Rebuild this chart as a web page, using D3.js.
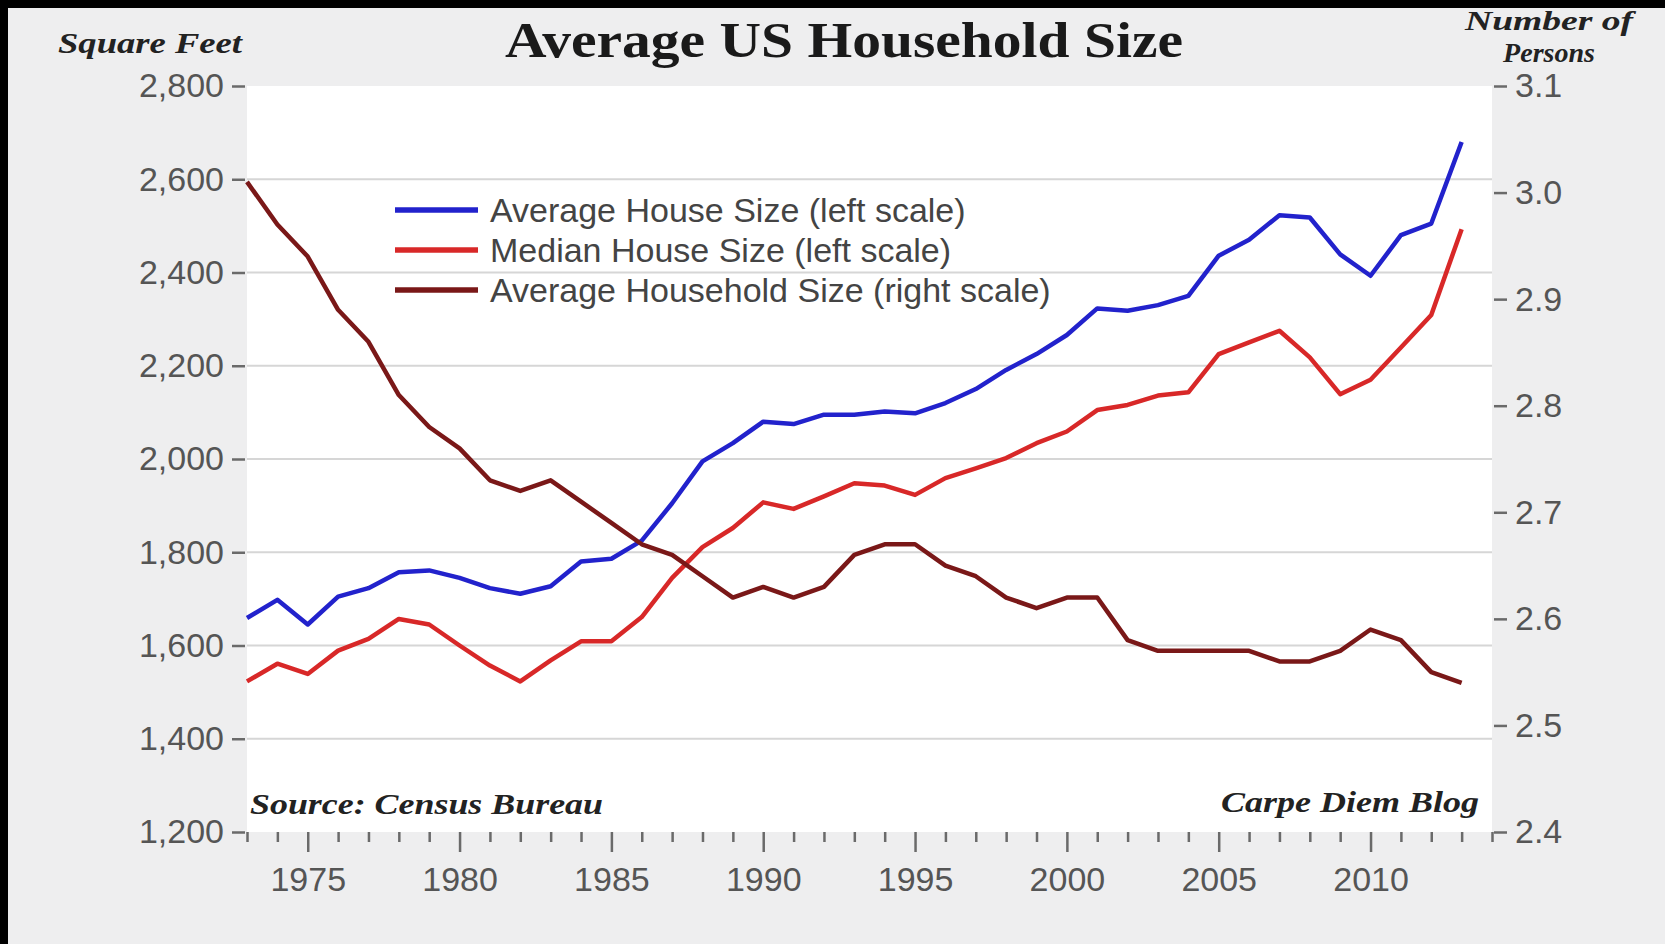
<!DOCTYPE html>
<html>
<head>
<meta charset="utf-8">
<script src="https://cdn.jsdelivr.net/npm/d3@7"></script>
<style>
  body { margin: 0; background: #000; }
  svg { display: block; }
</style>
</head>
<body>
<div id="container"></div>
<script>
// data
const years = d3.range(1973, 2014);
const avgHouse = [1659, 1698, 1645, 1705, 1723, 1757, 1761, 1745, 1723, 1711,
  1727, 1780, 1786, 1825, 1905, 1995, 2034, 2080, 2075, 2095,
  2095, 2102, 2098, 2120, 2150, 2191, 2225, 2266, 2323, 2318,
  2330, 2350, 2436, 2470, 2523, 2518, 2439, 2393, 2480, 2505, 2680];
const medianHouse = [1523, 1561, 1539, 1589, 1614, 1657, 1645, 1600, 1557, 1523,
  1568, 1609, 1609, 1661, 1745, 1811, 1852, 1907, 1893, 1920,
  1948, 1943, 1923, 1959, 1980, 2002, 2034, 2059, 2105, 2116,
  2136, 2143, 2225, 2250, 2275, 2218, 2139, 2170, 2239, 2309, 2493];
const householdSize = [3.01, 2.97, 2.94, 2.89, 2.86, 2.81, 2.78, 2.76, 2.73, 2.72,
  2.73, 2.71, 2.69, 2.67, 2.66, 2.64, 2.62, 2.63, 2.62, 2.63,
  2.66, 2.67, 2.67, 2.65, 2.64, 2.62, 2.61, 2.62, 2.62, 2.58,
  2.57, 2.57, 2.57, 2.57, 2.56, 2.56, 2.57, 2.59, 2.58, 2.55, 2.54];
const leftTicks = [1200, 1400, 1600, 1800, 2000, 2200, 2400, 2600, 2800];
const rightTicks = [2.4, 2.5, 2.6, 2.7, 2.8, 2.9, 3.0, 3.1];
const yearLabels = [1975, 1980, 1985, 1990, 1995, 2000, 2005, 2010];
const seriesNames = ["Average House Size (left scale)", "Median House Size (left scale)", "Average Household Size (right scale)"];
const seriesColors = ["#2222cc", "#d82828", "#7a1818"];

const width = 1665, height = 944;
const plot = { left: 247, right: 1492, top: 86, bottom: 832 };

const svg = d3.select("#container").append("svg")
  .attr("width", width)
  .attr("height", height);

// background + black border strips
svg.append("rect").attr("width", width).attr("height", height).attr("fill", "#eeeeef");
svg.append("rect").attr("width", width).attr("height", 8).attr("fill", "#000");
svg.append("rect").attr("width", 8).attr("height", height).attr("fill", "#000");

// scales
const x = d3.scaleLinear().domain([1973, 2014]).range([plot.left, plot.right]);
const yLeft = d3.scaleLinear().domain([1200, 2800]).range([plot.bottom, plot.top]);
const yRight = d3.scaleLinear().domain([2.4, 3.1]).range([plot.bottom, plot.top]);

// plot area
svg.append("rect")
  .attr("x", plot.left).attr("y", plot.top)
  .attr("width", plot.right - plot.left).attr("height", plot.bottom - plot.top)
  .attr("fill", "#fff");

// gridlines
svg.selectAll("line.grid")
  .data(leftTicks.filter(d => d > 1200 && d < 2800))
  .join("line")
  .attr("class", "grid")
  .attr("x1", plot.left).attr("x2", plot.right)
  .attr("y1", d => yLeft(d)).attr("y2", d => yLeft(d))
  .attr("stroke", "#d6d6d6").attr("stroke-width", 2);

const tickFont = "'Liberation Sans', Arial, sans-serif";

// left axis
const leftAxis = svg.append("g")
  .attr("transform", `translate(${plot.left - 2},0)`)
  .call(d3.axisLeft(yLeft).tickValues(leftTicks).tickFormat(d3.format(",")).tickSize(13).tickPadding(8));
leftAxis.select(".domain").remove();

// right axis
const rightAxis = svg.append("g")
  .attr("transform", `translate(${plot.right + 2},0)`)
  .call(d3.axisRight(yRight).tickValues(rightTicks).tickFormat(d3.format(".1f")).tickSize(13).tickPadding(8));
rightAxis.select(".domain").remove();

// bottom axis: minor ticks every year, longer ones at labels
const bottomAxis = svg.append("g")
  .attr("transform", `translate(0,${plot.bottom})`)
  .call(d3.axisBottom(x).tickValues(d3.range(1973, 2015)).tickSize(10).tickFormat(""));
bottomAxis.select(".domain").remove();
bottomAxis.selectAll(".tick line")
  .attr("y2", d => yearLabels.includes(d) ? 20 : 10);
bottomAxis.selectAll(".tick")
  .filter(d => yearLabels.includes(d))
  .select("text")
  .attr("y", 35)
  .text(d => d);

svg.selectAll(".tick line").attr("stroke", "#6a6a6a").attr("stroke-width", 2.5);
svg.selectAll(".tick text")
  .attr("fill", "#555")
  .style("font-family", tickFont)
  .style("font-size", "34px");

// lines
const lineLeft = d3.line().x((d, i) => x(years[i])).y(d => yLeft(d));
const lineRight = d3.line().x((d, i) => x(years[i])).y(d => yRight(d));

const series = [
  { values: avgHouse, gen: lineLeft },
  { values: medianHouse, gen: lineLeft },
  { values: householdSize, gen: lineRight }
];

svg.selectAll("path.series")
  .data(series)
  .join("path")
  .attr("class", "series")
  .attr("d", d => d.gen(d.values))
  .attr("fill", "none")
  .attr("stroke", (d, i) => seriesColors[i])
  .attr("stroke-width", 4.5)
  .attr("stroke-linejoin", "round");

// legend
const legend = svg.append("g").attr("transform", "translate(395,210)");
const legendRows = legend.selectAll("g")
  .data(seriesNames)
  .join("g")
  .attr("transform", (d, i) => `translate(0,${i * 40})`);
legendRows.append("line")
  .attr("x1", 0).attr("x2", 83)
  .attr("stroke", (d, i) => seriesColors[i])
  .attr("stroke-width", 5.5);
legendRows.append("text")
  .attr("x", 95)
  .attr("dy", "0.36em")
  .attr("fill", "#444")
  .style("font-family", tickFont)
  .style("font-size", "34px")
  .text(d => d);

// titles and notes
const serif = "'Liberation Serif', 'DejaVu Serif', serif";

svg.append("text")
  .attr("x", 844).attr("y", 57)
  .attr("text-anchor", "middle")
  .attr("textLength", 678).attr("lengthAdjust", "spacingAndGlyphs")
  .style("font-family", serif).style("font-weight", "bold")
  .style("font-size", "50px").attr("fill", "#1a1a1a")
  .text("Average US Household Size");

svg.append("text")
  .attr("x", 58).attr("y", 53)
  .attr("textLength", 184).attr("lengthAdjust", "spacingAndGlyphs")
  .style("font-family", serif).style("font-weight", "bold").style("font-style", "italic")
  .style("font-size", "29px").attr("fill", "#222")
  .text("Square Feet");

svg.append("text")
  .attr("x", 1549).attr("y", 30)
  .attr("text-anchor", "middle")
  .attr("textLength", 168).attr("lengthAdjust", "spacingAndGlyphs")
  .style("font-family", serif).style("font-weight", "bold").style("font-style", "italic")
  .style("font-size", "28px").attr("fill", "#222")
  .text("Number of");

svg.append("text")
  .attr("x", 1549).attr("y", 62)
  .attr("text-anchor", "middle")
  .style("font-family", serif).style("font-weight", "bold").style("font-style", "italic")
  .style("font-size", "28px").attr("fill", "#222")
  .text("Persons");

svg.append("text")
  .attr("x", 250).attr("y", 814)
  .attr("textLength", 353).attr("lengthAdjust", "spacingAndGlyphs")
  .style("font-family", serif).style("font-weight", "bold").style("font-style", "italic")
  .style("font-size", "29px").attr("fill", "#222")
  .text("Source: Census Bureau");

svg.append("text")
  .attr("x", 1479).attr("y", 812)
  .attr("text-anchor", "end")
  .attr("textLength", 258).attr("lengthAdjust", "spacingAndGlyphs")
  .style("font-family", serif).style("font-weight", "bold").style("font-style", "italic")
  .style("font-size", "29px").attr("fill", "#222")
  .text("Carpe Diem Blog");
</script>
</body>
</html>
